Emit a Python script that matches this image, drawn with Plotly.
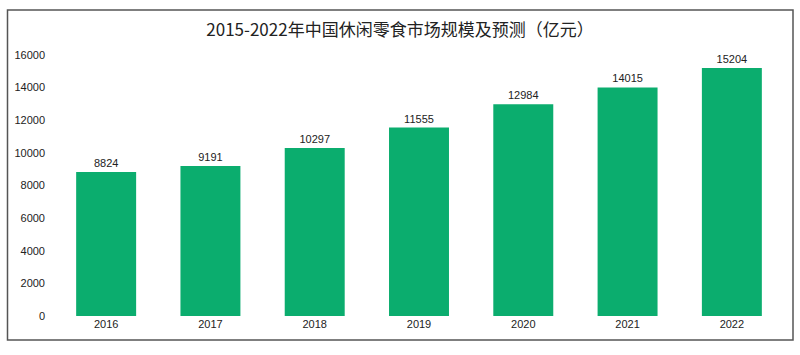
import plotly.graph_objects as go

years = ["2016", "2017", "2018", "2019", "2020", "2021", "2022"]
values = [8824, 9191, 10297, 11555, 12984, 14015, 15204]
y_ticks = [0, 2000, 4000, 6000, 8000, 10000, 12000, 14000, 16000]
title = "2015-2022年中国休闲零食市场规模及预测（亿元）"

W, H = 800, 355
ml, mr, mt, mb = 54, 16, 55, 39
pw = W - ml - mr
ph = H - mt - mb

fig = go.Figure(go.Bar(
    x=years, y=values,
    marker=dict(color="#0BAD6E", line=dict(width=0)),
    text=[str(v) for v in values], textposition="outside",
    textfont=dict(family="Liberation Sans, Arial", size=11, color="#222"),
    cliponaxis=False, width=0.575,
))

fig.update_layout(
    width=W, height=H,
    margin=dict(l=ml, r=mr, t=mt, b=mb),
    paper_bgcolor="white", plot_bgcolor="white",
    showlegend=False,
    title=dict(text=title, x=0.5, xanchor="center", y=1 - 30 / H, yanchor="middle",
               font=dict(family="Noto Sans CJK SC", size=17, color="#222")),
    xaxis=dict(showgrid=False, showline=False, zeroline=False, ticks="",
               tickfont=dict(family="Liberation Sans, Arial", size=11, color="#222"),
               range=[-0.5, 6.5]),
    yaxis=dict(range=[0, 16000], tickvals=y_ticks, ticktext=[str(t) for t in y_ticks],
               showgrid=False, zeroline=False,
               showline=False, ticks="", ticklabelstandoff=8,
               tickfont=dict(family="Liberation Sans, Arial", size=11, color="#222")),
    shapes=[dict(type="rect", xref="paper", yref="paper",
                 x0=(7.5 - ml) / pw, x1=(793 - ml) / pw,
                 y0=(H - mb - 340) / ph, y1=(H - mb - 10) / ph,
                 line=dict(color="#555", width=1.5), fillcolor="rgba(0,0,0,0)", layer="above")],
)

fig.write_html("out.html", config={"displayModeBar": False},
               post_script="document.body.style.margin='0';")
